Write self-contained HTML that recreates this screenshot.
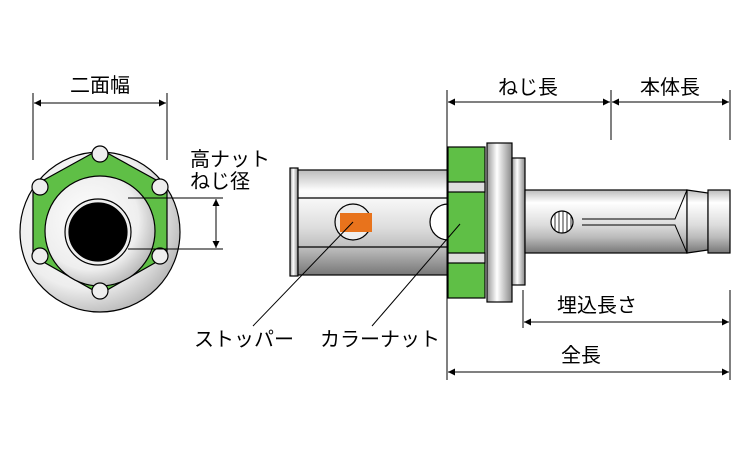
<!DOCTYPE html>
<html><head><meta charset="utf-8"><style>
html,body{margin:0;padding:0;background:#fff}
svg{display:block}
text{font-family:"Liberation Sans","Noto Sans CJK JP",sans-serif;font-size:20px;fill:#000}
</style></head><body>
<svg width="750" height="450" viewBox="0 0 750 450" xmlns="http://www.w3.org/2000/svg">
<defs>
<marker id="a" viewBox="0 0 10 10" refX="10" refY="5" markerWidth="9" markerHeight="7" orient="auto-start-reverse" markerUnits="userSpaceOnUse"><path d="M0,0L10,5L0,10z" fill="#000"/></marker>
<radialGradient id="rg" cx="0.4" cy="0.4" r="0.75"><stop offset="0" stop-color="#fff"/><stop offset="0.6" stop-color="#eee"/><stop offset="1" stop-color="#999"/></radialGradient>
<linearGradient id="vg" x1="0" y1="0" x2="0" y2="1"><stop offset="0" stop-color="#bbb"/><stop offset="0.2" stop-color="#fff"/><stop offset="0.55" stop-color="#ddd"/><stop offset="0.75" stop-color="#bbb"/><stop offset="1" stop-color="#777"/></linearGradient>
<linearGradient id="hg" x1="0" y1="0" x2="1" y2="0"><stop offset="0" stop-color="#999"/><stop offset="0.4" stop-color="#fff"/><stop offset="1" stop-color="#888"/></linearGradient>
</defs>
<g stroke="#000" stroke-width="1.2">
<circle cx="100" cy="232" r="80" fill="url(#rg)"/>
<polygon points="100,149 167,186 167,256 100,294 33,256 33,186" fill="#5fbf46"/>
<circle cx="100" cy="231" r="55" fill="url(#rg)"/>
<circle cx="98" cy="232" r="33" fill="#eee"/>
<circle cx="98" cy="232" r="29" fill="#000"/>
<g fill="#eee"><circle cx="100" cy="154" r="8"/><circle cx="40" cy="187" r="8"/><circle cx="160" cy="187" r="8"/><circle cx="40" cy="256" r="8"/><circle cx="160" cy="256" r="8"/><circle cx="100" cy="291" r="8"/></g>
</g>
<g stroke="#000" stroke-width="1" fill="none">
<line x1="33" y1="93" x2="33" y2="160"/><line x1="167" y1="93" x2="167" y2="160"/>
<line x1="34" y1="103" x2="166" y2="103" marker-start="url(#a)" marker-end="url(#a)"/>
<line x1="128" y1="198" x2="223" y2="198"/><line x1="128" y1="249" x2="223" y2="249"/>
<line x1="216" y1="199" x2="216" y2="248" marker-start="url(#a)" marker-end="url(#a)"/>
</g>
<text x="100" y="92" text-anchor="middle">二面幅</text>
<text x="190" y="166">高ナット</text>
<text x="190" y="188">ねじ径</text>
<g stroke="#000" stroke-width="1.2">
<rect x="290" y="168" width="8" height="108" fill="url(#hg)"/>
<rect x="298" y="170" width="150" height="105" fill="url(#vg)"/>
<line x1="298" y1="198" x2="448" y2="198"/><line x1="298" y1="247" x2="448" y2="247"/>
<circle cx="353" cy="222" r="18" fill="#eee"/>
<rect x="340" y="213" width="32" height="19" fill="#e8731c" stroke="none"/>
<path d="M448,204 A18,18 0 0,0 448,240 Z" fill="#fff"/>
<rect x="448" y="147" width="37" height="151" fill="#5fbf46"/>
<rect x="448" y="182" width="37" height="10" fill="#ddd"/>
<rect x="448" y="253" width="37" height="10" fill="#ddd"/>
<rect x="487" y="143" width="25" height="159" fill="url(#hg)"/>
<rect x="512" y="158" width="13" height="127" fill="url(#hg)"/>
<rect x="525" y="190" width="162" height="63" fill="url(#vg)"/>
<path d="M687,190 L708,193 L708,250 L687,253 Z" fill="url(#vg)"/>
<rect x="708" y="190" width="22" height="63" fill="url(#vg)"/>
<path d="M687,190 L675,219 L582,219 M582,225 L675,225 L687,253" fill="none" stroke-width="1"/>
<circle cx="562" cy="222" r="11" fill="#fff"/>
</g>
<g stroke="#000" stroke-width="0.8"><line x1="555" y1="213" x2="555" y2="231"/><line x1="559" y1="211" x2="559" y2="233"/><line x1="563" y1="211" x2="563" y2="233"/><line x1="567" y1="212" x2="567" y2="232"/><line x1="571" y1="215" x2="571" y2="229"/></g>
<g stroke="#000" stroke-width="1" fill="none">
<line x1="353" y1="222" x2="253" y2="326"/>
<line x1="460" y1="224" x2="372" y2="326"/>
<line x1="447" y1="90" x2="447" y2="380"/><line x1="611" y1="90" x2="611" y2="140"/><line x1="730" y1="90" x2="730" y2="140"/>
<line x1="730" y1="290" x2="730" y2="380"/><line x1="523" y1="290" x2="523" y2="328"/>
<line x1="448" y1="102" x2="610" y2="102" marker-start="url(#a)" marker-end="url(#a)"/>
<line x1="612" y1="102" x2="729" y2="102" marker-start="url(#a)" marker-end="url(#a)"/>
<line x1="524" y1="322" x2="729" y2="322" marker-start="url(#a)" marker-end="url(#a)"/>
<line x1="448" y1="372" x2="729" y2="372" marker-start="url(#a)" marker-end="url(#a)"/>
</g>
<text x="528" y="94" text-anchor="middle">ねじ長</text>
<text x="670" y="94" text-anchor="middle">本体長</text>
<text x="597" y="312" text-anchor="middle">埋込長さ</text>
<text x="581" y="362" text-anchor="middle">全長</text>
<text x="194" y="346">ストッパー</text>
<text x="320" y="346">カラーナット</text>
</svg>
</body></html>
